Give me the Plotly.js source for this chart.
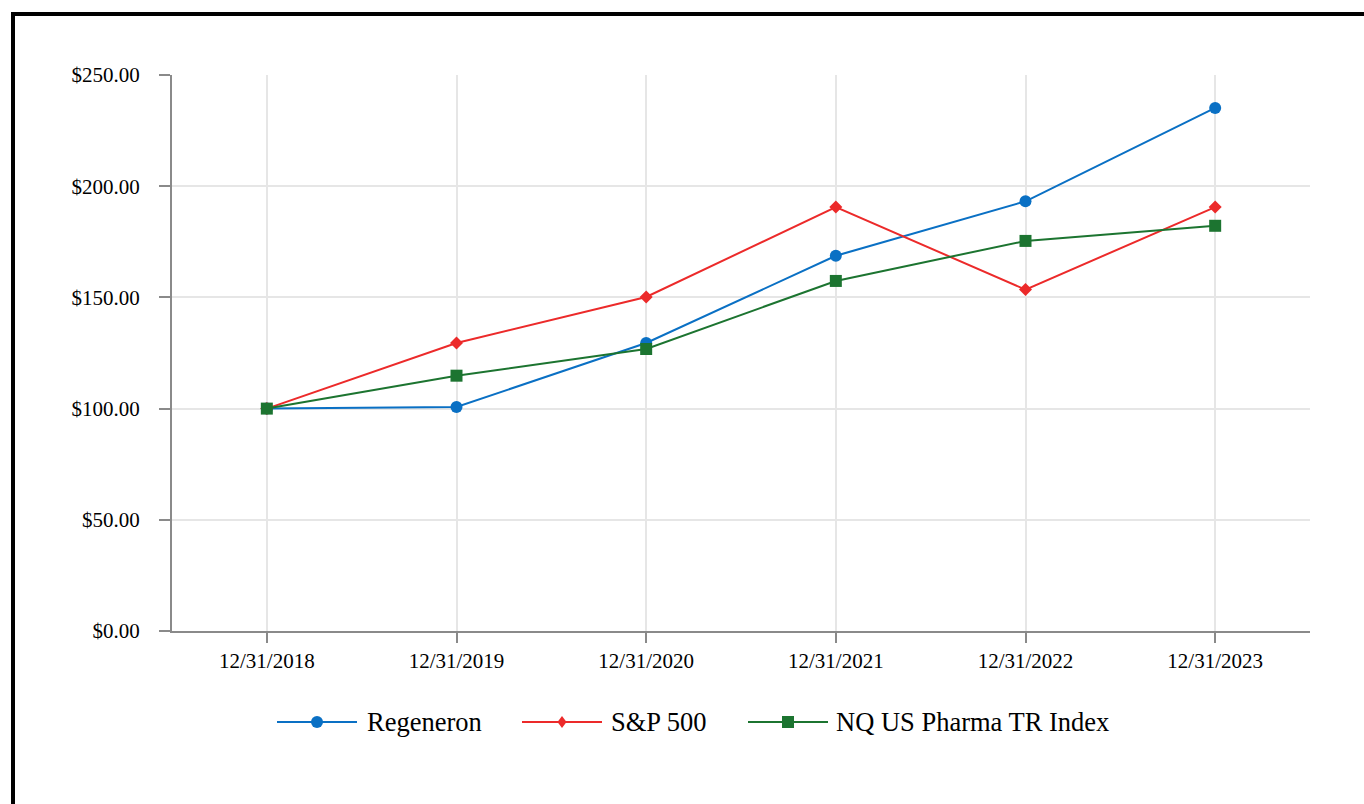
<!DOCTYPE html>
<html>
<head>
<meta charset="utf-8">
<script src="https://cdn.plot.ly/plotly-3.0.1.min.js"></script>
<style>
  html, body { margin: 0; padding: 0; background: #fff; }
  #chart { position: absolute; left: 0; top: 0; width: 1364px; height: 804px; }
  #frame { position: absolute; left: 11px; top: 12px; width: 1400px; height: 900px;
           border: 4px solid #000; pointer-events: none; box-sizing: border-box; }
</style>
</head>
<body>
<div id="chart"></div>
<div id="frame"></div>
<script>
// ---- data ----
const categories = ["12/31/2018", "12/31/2019", "12/31/2020", "12/31/2021", "12/31/2022", "12/31/2023"];
const regeneron = [100.00, 100.70, 129.50, 168.70, 193.20, 235.20];
const sp500     = [100.00, 129.50, 150.20, 190.60, 153.50, 190.60];
const nqPharma  = [100.00, 114.80, 126.80, 157.40, 175.40, 182.20];
const seriesNames = ["Regeneron", "S&P 500", "NQ US Pharma TR Index"];
const yTickVals = [0, 50, 100, 150, 200, 250];
const yTickText = ["$0.00", "$50.00", "$100.00", "$150.00", "$200.00", "$250.00"];

// ---- styles ----
const colors = ["#0a70c4", "#ec2a2a", "#1c7430"];
const symbols = ["circle", "diamond", "square"];
const FONT = "Liberation Serif, Times New Roman, serif";

const W = 1364, H = 804;
const M = { l: 172, r: 54, t: 75, b: 173 };
const PW = W - M.l - M.r, PH = H - M.t - M.b;
const px2x = p => (p - M.l) / PW;
const px2y = p => (H - M.b - p) / PH;

const seriesVals = [regeneron, sp500, nqPharma];
const traces = seriesVals.map((vals, i) => ({
  type: "scatter",
  mode: "lines+markers",
  name: seriesNames[i],
  x: categories,
  y: vals,
  line: { color: colors[i], width: 2 },
  marker: { color: colors[i], symbol: symbols[i], size: symbols[i] === "diamond" ? 10 : 12 },
  showlegend: false,
  hoverinfo: "x+y+name"
}));

// ---- custom legend (decoration) ----
const legendY = 722;
const legendItems = [
  { x0: 277, x1: 357, tx: 365 },
  { x0: 522, x1: 602, tx: 609 },
  { x0: 748, x1: 828, tx: 834 }
];
const shapes = [];
const annotations = [];
legendItems.forEach((it, i) => {
  const yc = px2y(legendY);
  shapes.push({ type: "line", xref: "paper", yref: "paper",
    x0: px2x(it.x0), x1: px2x(it.x1), y0: yc, y1: yc,
    line: { color: colors[i], width: 2 } });
  const cx = (it.x0 + it.x1) / 2;
  const r = 6;
  if (symbols[i] === "circle") {
    shapes.push({ type: "circle", xref: "paper", yref: "paper",
      x0: px2x(cx - r), x1: px2x(cx + r), y0: px2y(legendY + r), y1: px2y(legendY - r),
      fillcolor: colors[i], line: { width: 0 } });
  } else if (symbols[i] === "diamond") {
    const d = 6;
    shapes.push({ type: "path", xref: "paper", yref: "paper",
      path: `M ${px2x(cx)} ${px2y(legendY - d)} L ${px2x(cx + d * 0.75)} ${px2y(legendY)} L ${px2x(cx)} ${px2y(legendY + d)} L ${px2x(cx - d * 0.75)} ${px2y(legendY)} Z`,
      fillcolor: colors[i], line: { width: 0 } });
  } else {
    shapes.push({ type: "rect", xref: "paper", yref: "paper",
      x0: px2x(cx - r), x1: px2x(cx + r), y0: px2y(legendY + r), y1: px2y(legendY - r),
      fillcolor: colors[i], line: { width: 0 } });
  }
  annotations.push({ xref: "paper", yref: "paper", x: px2x(it.tx), y: px2y(legendY),
    xanchor: "left", yanchor: "middle", showarrow: false, text: seriesNames[i],
    font: { family: FONT, size: 26.5, color: "#000" } });
});

const layout = {
  width: W, height: H,
  margin: M,
  paper_bgcolor: "#ffffff",
  plot_bgcolor: "#ffffff",
  font: { family: FONT, size: 21, color: "#000" },
  showlegend: false,
  xaxis: {
    type: "category",
    range: [-0.5, 5.5],
    showgrid: true, gridcolor: "#e6e6e6", gridwidth: 2,
    showline: true, linecolor: "#8a8a8a", linewidth: 2,
    ticks: "outside", ticklen: 10, tickwidth: 2, tickcolor: "#8a8a8a",
    tickfont: { family: FONT, size: 21, color: "#000" },
    ticklabelstandoff: 0,
    zeroline: false, fixedrange: true
  },
  yaxis: {
    range: [0, 250],
    tickvals: yTickVals, ticktext: yTickText,
    showgrid: true, gridcolor: "#e6e6e6", gridwidth: 2,
    showline: true, linecolor: "#8a8a8a", linewidth: 2,
    ticks: "outside", ticklen: 11, tickwidth: 2, tickcolor: "#8a8a8a",
    tickfont: { family: FONT, size: 21, color: "#000" },
    ticklabelstandoff: 15,
    zeroline: false, fixedrange: true
  },
  shapes: shapes,
  annotations: annotations
};

Plotly.newPlot("chart", traces, layout, { staticPlot: true, displayModeBar: false });
</script>
</body>
</html>
